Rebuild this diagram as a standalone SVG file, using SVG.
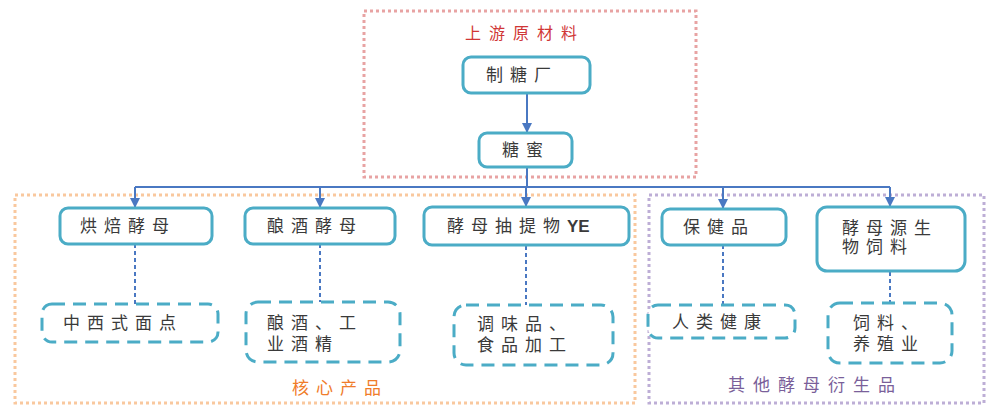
<svg xmlns="http://www.w3.org/2000/svg" width="992" height="405" viewBox="0 0 992 405">
<style>
.node{fill:#fff;stroke:#4bacc6;stroke-width:3}
.dash{fill:#fff;stroke:#4bacc6;stroke-width:3;stroke-dasharray:13 8}
.t{font-family:"Noto Sans CJK SC","Liberation Sans",sans-serif;font-size:17px;fill:#3a3a3a;letter-spacing:7px}
.conn{fill:none;stroke:#4a78c2;stroke-width:2}
.dot{fill:none;stroke:#4a78c2;stroke-width:2;stroke-dasharray:4 3}
</style>
<defs>
<marker id="ah" viewBox="0 0 10 10" refX="9" refY="5" markerWidth="5" markerHeight="5" orient="auto" markerUnits="strokeWidth">
<path d="M0,0L10,5L0,10z" fill="#4a78c2"/>
</marker>
</defs>
<g id="frame-upstream">
<rect x="364" y="11" width="332" height="166" fill="none" stroke="#e8a3a3" stroke-width="3" stroke-dasharray="3 3"/>
<text x="465" y="39" class="t" style="fill:#d03636;font-size:16px;letter-spacing:8px">上游原材料</text>
</g>
<g id="frame-core">
<rect x="15" y="195" width="620" height="208" fill="none" stroke="#f9c89e" stroke-width="3" stroke-dasharray="3 3"/>
<text x="292" y="394" class="t" style="fill:#f07c2a">核心产品</text>
</g>
<g id="frame-other">
<rect x="649" y="195" width="335" height="208" fill="none" stroke="#bdaed6" stroke-width="3" stroke-dasharray="3 3"/>
<text x="728" y="391" class="t" style="fill:#7a5f9a;letter-spacing:8px">其他酵母衍生品</text>
</g>
<g id="connectors">
<path class="conn" d="M527,93V132" marker-end="url(#ah)"/>
<path class="conn" d="M527,167V187M135,187H890"/>
<path class="conn" d="M135,187V207" marker-end="url(#ah)"/>
<path class="conn" d="M320,187V207" marker-end="url(#ah)"/>
<path class="conn" d="M526,187V206" marker-end="url(#ah)"/>
<path class="conn" d="M723,187V208" marker-end="url(#ah)"/>
<path class="conn" d="M890,187V206" marker-end="url(#ah)"/>
<path class="dot" d="M135,244V304M320,244V302M526,246V305M723,245V305M890,272V303"/>
</g>
<g id="n-zhitangchang"><rect class="node" x="463" y="57" width="127" height="36" rx="8"/><text class="t" x="486" y="81">制糖厂</text></g>
<g id="n-tangmi"><rect class="node" x="479" y="133" width="93" height="34" rx="8"/><text class="t" x="502" y="156">糖蜜</text></g>
<g id="n-hongbei"><rect class="node" x="60" y="208" width="152" height="36" rx="8"/><text class="t" x="80" y="232">烘焙酵母</text></g>
<g id="n-niangjiu"><rect class="node" x="245" y="208" width="150" height="36" rx="8"/><text class="t" x="267" y="232">酿酒酵母</text></g>
<g id="n-ye"><rect class="node" x="424" y="207" width="205" height="38" rx="8"/><text class="t" x="447" y="232">酵母抽提物<tspan style="font-family:'Liberation Sans',sans-serif;font-weight:bold;letter-spacing:0">YE</tspan></text></g>
<g id="n-baojian"><rect class="node" x="662" y="209" width="124" height="36" rx="8"/><text class="t" x="683" y="233">保健品</text></g>
<g id="n-siliao"><rect class="node" x="817" y="207" width="148" height="64" rx="10"/><text class="t"><tspan x="842" y="234">酵母源生</tspan><tspan x="842" y="253">物饲料</tspan></text></g>
<g id="d-mianidan"><rect class="dash" x="42" y="304" width="176" height="38" rx="10"/><text class="t" x="63" y="329">中西式面点</text></g>
<g id="d-jiujing"><rect class="dash" x="246" y="302" width="154" height="60" rx="12"/><text class="t"><tspan x="267" y="329">酿酒、工</tspan><tspan x="267" y="350">业酒精</tspan></text></g>
<g id="d-tiaowei"><rect class="dash" x="454" y="305" width="159" height="60" rx="12"/><text class="t"><tspan x="477" y="330">调味品、</tspan><tspan x="477" y="351">食品加工</tspan></text></g>
<g id="d-jiankang"><rect class="dash" x="648" y="305" width="147" height="33" rx="10"/><text class="t" x="672" y="328">人类健康</text></g>
<g id="d-yangzhi"><rect class="dash" x="828" y="303" width="124" height="60" rx="12"/><text class="t"><tspan x="853" y="329">饲料、</tspan><tspan x="853" y="350">养殖业</tspan></text></g>
</svg>
